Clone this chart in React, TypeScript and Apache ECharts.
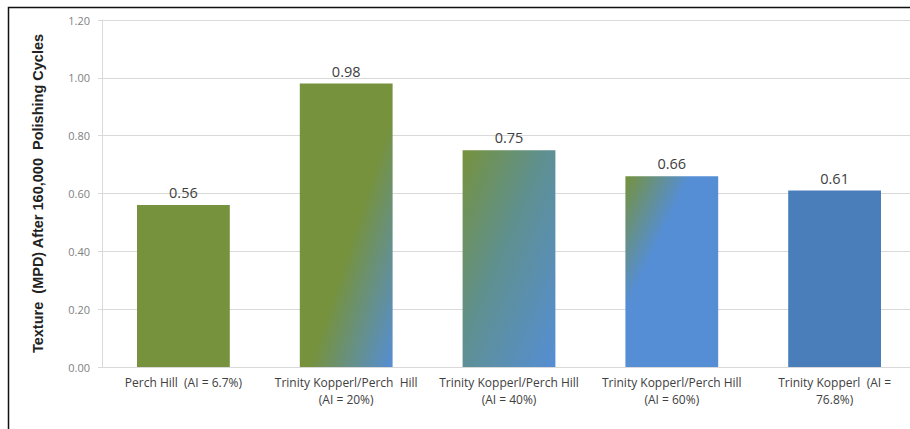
import React, { useEffect, useRef } from "react";
import * as echarts from "echarts";

const categories = [
  "Perch Hill  (AI = 6.7%)",
  "Trinity Kopperl/Perch  Hill\n(AI = 20%)",
  "Trinity Kopperl/Perch Hill\n(AI = 40%)",
  "Trinity Kopperl/Perch Hill\n(AI = 60%)",
  "Trinity Kopperl  (AI =\n76.8%)",
];
const values = [0.56, 0.98, 0.75, 0.66, 0.61];
const yTicks = { min: 0, max: 1.2, interval: 0.2 };
const yAxisTitle = "Texture  (MPD) After 160,000  Polishing Cycles";

const GREEN = "#76923c";
const BLUE = "#558ed5";
const BLUE_SOLID = "#4a7ebb";

const grad = (stops: [number, string][]) =>
  new echarts.graphic.LinearGradient(
    0,
    0,
    1,
    1,
    stops.map(([offset, color]) => ({ offset, color }))
  );

const barFills = [
  GREEN,
  grad([
    [0, GREEN],
    [0.55, GREEN],
    [1, BLUE],
  ]),
  grad([
    [0, GREEN],
    [0.45, "#5f9090"],
    [1, BLUE],
  ]),
  grad([
    [0, GREEN],
    [0.35, BLUE],
    [1, BLUE],
  ]),
  BLUE_SOLID,
];

export default function App() {
  const ref = useRef<HTMLDivElement>(null);
  useEffect(() => {
    document.body.style.margin = "0";
    const chart = echarts.init(ref.current!, undefined, { renderer: "svg" });
    chart.setOption({
      animation: false,
      backgroundColor: "#ffffff",
      graphic: [
        {
          type: "rect",
          shape: { x: 8.5, y: 7.5, width: 920, height: 440 },
          style: { fill: "none", stroke: "#111", lineWidth: 1.5 },
          silent: true,
        },
      ],
      grid: { left: 102, right: 8, top: 20, bottom: 62 },
      xAxis: {
        type: "category",
        data: categories,
        axisLine: { show: true, lineStyle: { color: "#d9d9d9", width: 1 } },
        axisTick: { show: false },
        axisLabel: {
          interval: 0,
          color: "#404040",
          fontFamily: "Open Sans",
          fontSize: 12,
          lineHeight: 17,
          margin: 7,
        },
      },
      yAxis: {
        type: "value",
        min: yTicks.min,
        max: yTicks.max,
        interval: yTicks.interval,
        name: yAxisTitle,
        nameLocation: "middle",
        nameGap: 57,
        nameTextStyle: {
          color: "#222",
          fontFamily: "Liberation Sans",
          fontWeight: "bold",
          fontSize: 14.5,
        },
        axisLine: { show: true, lineStyle: { color: "#d9d9d9" } },
        axisTick: { show: true, length: 4, lineStyle: { color: "#d9d9d9" } },
        axisLabel: {
          color: "#7f7f7f",
          fontFamily: "Open Sans",
          fontSize: 11,
          margin: 12,
          formatter: (v: number) => v.toFixed(2),
        },
        splitLine: { lineStyle: { color: "#d9d9d9", width: 1 } },
      },
      series: [
        {
          type: "bar",
          barWidth: "57%",
          data: values.map((v, i) => ({
            value: v,
            itemStyle: { color: barFills[i] },
          })),
          label: {
            show: true,
            position: "top",
            distance: 5,
            color: "#404040",
            fontFamily: "Open Sans",
            fontSize: 14.5,
            formatter: (p: any) => p.value.toFixed(2),
          },
        },
      ],
    });
    return () => chart.dispose();
  }, []);
  return (
    <div style={{ width: 910, height: 429, overflow: "hidden", position: "relative" }}>
      <div ref={ref} style={{ width: 924, height: 429 }} />
    </div>
  );
}
